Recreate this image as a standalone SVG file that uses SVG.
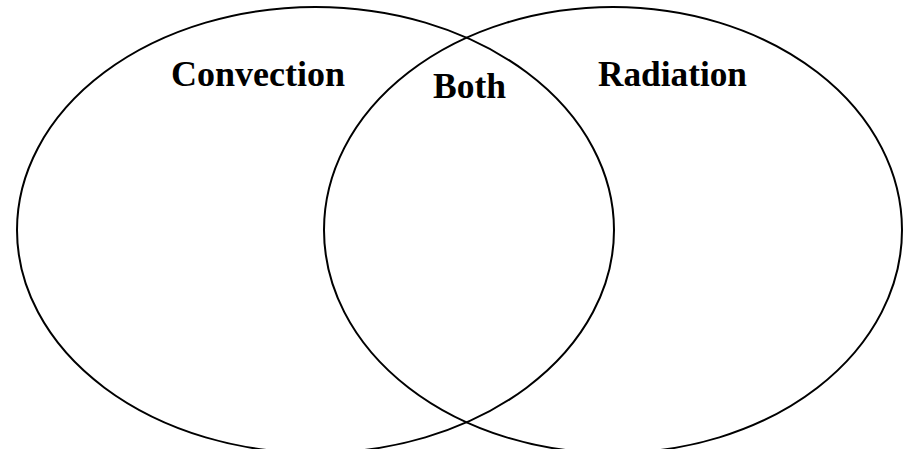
<svg xmlns="http://www.w3.org/2000/svg" width="907" height="449" viewBox="0 0 907 449">
  <style>
    .set { fill: none; stroke: #000; stroke-width: 2; }
    .lbl { font-family: "Liberation Serif", "Times New Roman", serif; font-weight: bold; font-size: 36px; fill: #000; }
  </style>
  <rect width="907" height="449" fill="#fff"/>
  <g id="convection">
    <ellipse class="set" cx="315.5" cy="230" rx="298.5" ry="223"/>
    <text class="lbl" x="171" y="86" textLength="174" lengthAdjust="spacingAndGlyphs">Convection</text>
  </g>
  <g id="radiation">
    <ellipse class="set" cx="613" cy="230" rx="289" ry="223"/>
    <text class="lbl" x="598" y="86" textLength="149" lengthAdjust="spacingAndGlyphs">Radiation</text>
  </g>
  <g id="both">
    <text class="lbl" x="433" y="98" textLength="73" lengthAdjust="spacingAndGlyphs">Both</text>
  </g>
  <g id="connectors"/>
</svg>
